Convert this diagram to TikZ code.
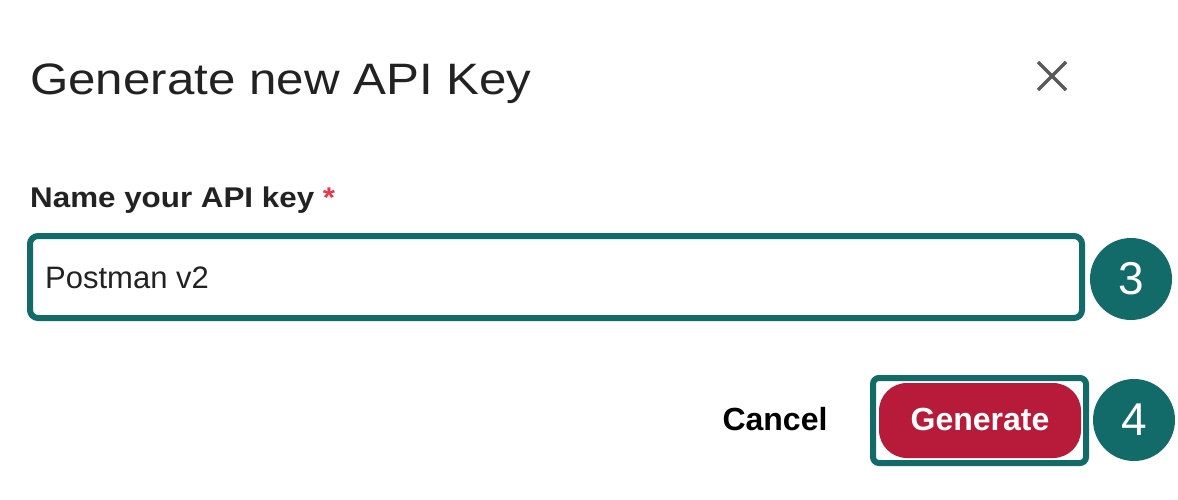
\documentclass[tikz,border=0pt]{standalone}
\usepackage{fontspec}
\setmainfont{Liberation Sans}
\usetikzlibrary{calc}
\definecolor{teal1}{HTML}{136B69}
\definecolor{crim}{HTML}{B81A3A}
\definecolor{star}{HTML}{E8384F}
\definecolor{dark}{HTML}{222222}
\begin{document}
\begin{tikzpicture}[x=1pt,y=-1pt,
  badge/.style={circle,fill=teal1,minimum size=82pt,inner sep=0pt,text=white,font=\fontsize{46}{46}\selectfont},
  lbl/.style={anchor=base west,text=dark,inner sep=0pt}]
\useasboundingbox[fill=white] (0,0) rectangle (1178,500);
\node[lbl,font=\fontsize{44}{44}\selectfont,xscale=1.12] (title) at (30,95) {Generate new API Key};
\coordinate (xc) at (1052,76);
\draw[line width=3.5pt,color=black!65] ($(xc)+(-14,-14)$) -- ($(xc)+(14,14)$) ($(xc)+(-14,14)$) -- ($(xc)+(14,-14)$);
\node[lbl,font=\bfseries\fontsize{28.5}{28.5}\selectfont,xscale=1.1] (name) at (30,207) {Name your API key \textcolor{star}{*}};
\draw[teal1,line width=6pt,fill=white,rounded corners=8pt] (30,236) rectangle (1082,318);
\node[lbl,font=\fontsize{31}{31}\selectfont] (val) at (45,288) {Postman v2};
\node[badge] (b3) at (1131,279) {3};
\node[font=\bfseries\fontsize{32}{32}\selectfont,text=black] (cancel) at (775,419) {Cancel};
\draw[teal1,line width=6pt,rounded corners=6pt] (873,378) rectangle (1086,463);
\fill[crim,rounded corners=28pt] (879,383) rectangle (1081,458);
\node[font=\bfseries\fontsize{32}{32}\selectfont,text=white] (gen) at (980,419) {Generate};
\node[badge] (b4) at (1134,420) {4};
\end{tikzpicture}
\end{document}
